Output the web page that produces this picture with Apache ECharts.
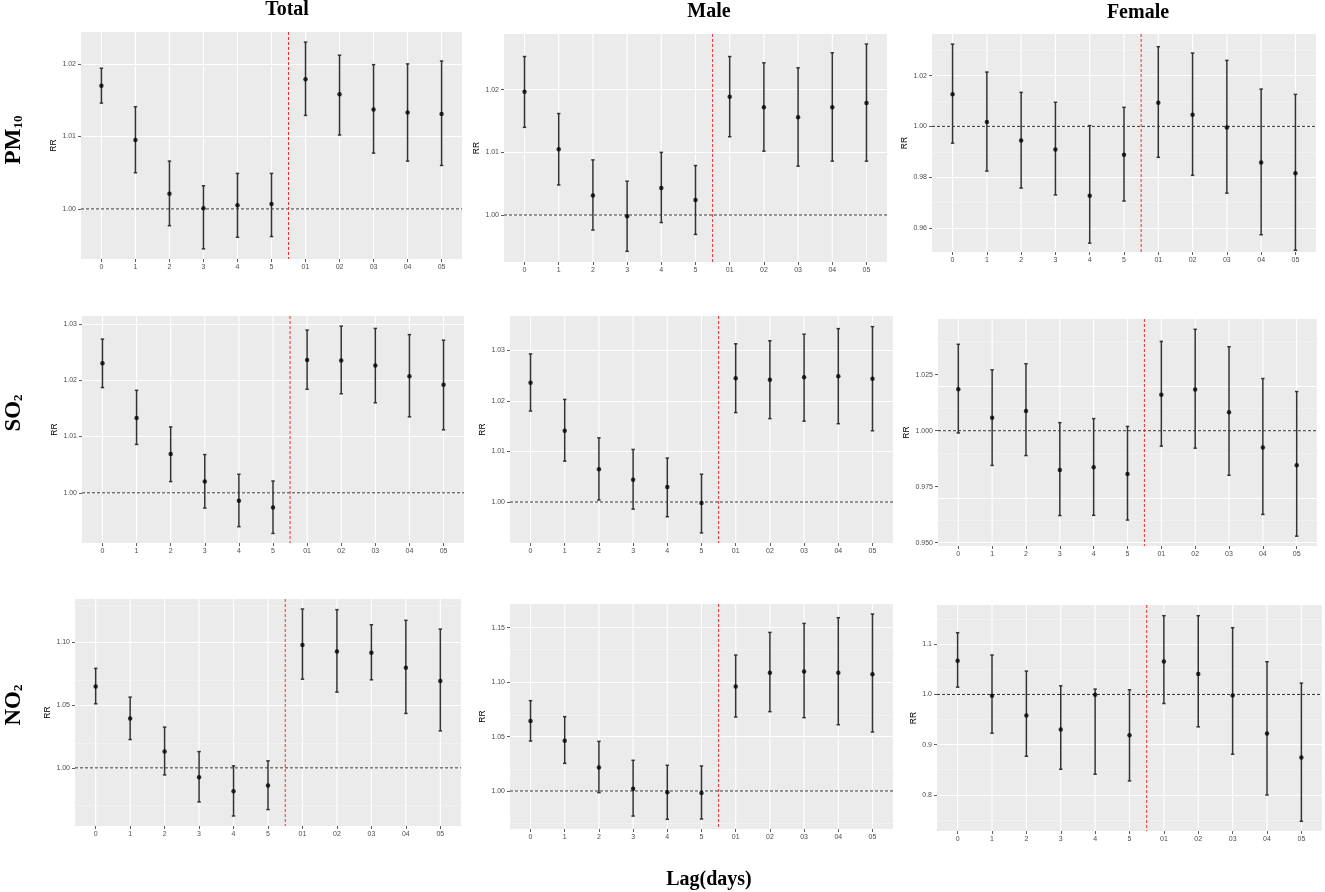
<!DOCTYPE html>
<html>
<head>
<meta charset="utf-8">
<script src="https://cdn.jsdelivr.net/npm/echarts@6/dist/echarts.min.js"></script>
<style>
  html, body { margin: 0; padding: 0; background: #fff; }
  #main { width: 1325px; height: 892px; }
</style>
</head>
<body>
<div id="main"></div>
<script>
// lag categories on the x axis
var lagLabels = ['0', '1', '2', '3', '4', '5', '01', '02', '03', '04', '05'];
var lagPos = [0, 1, 2, 3, 4, 5, 6, 7, 8, 9, 10];
var refRR = 1;       // horizontal dashed line
var splitLag = 5.5;  // red dashed line between single and moving-average lags

// PM10
var pm10Total_rr = [1.0170, 1.0095, 1.0021, 1.0001, 1.0005, 1.0007, 1.0179, 1.0158, 1.0137, 1.0133, 1.0131];
var pm10Total_lo = [1.0146, 1.0050, 0.9977, 0.9945, 0.9961, 0.9962, 1.0129, 1.0102, 1.0077, 1.0066, 1.0060];
var pm10Total_hi = [1.0194, 1.0141, 1.0066, 1.0032, 1.0049, 1.0049, 1.0230, 1.0212, 1.0199, 1.0200, 1.0204];

var pm10Male_rr = [1.0197, 1.0105, 1.0031, 0.9998, 1.0043, 1.0024, 1.0189, 1.0172, 1.0156, 1.0172, 1.0179];
var pm10Male_lo = [1.0140, 1.0048, 0.9976, 0.9942, 0.9988, 0.9969, 1.0125, 1.0102, 1.0078, 1.0086, 1.0086];
var pm10Male_hi = [1.0253, 1.0162, 1.0088, 1.0054, 1.0100, 1.0079, 1.0253, 1.0243, 1.0235, 1.0259, 1.0273];

var pm10Female_rr = [1.0127, 1.0017, 0.9944, 0.9909, 0.9727, 0.9888, 1.0093, 1.0046, 0.9996, 0.9858, 0.9815];
var pm10Female_lo = [0.9934, 0.9824, 0.9757, 0.9730, 0.9540, 0.9706, 0.9878, 0.9807, 0.9737, 0.9573, 0.9512];
var pm10Female_hi = [1.0324, 1.0214, 1.0134, 1.0095, 1.0003, 1.0075, 1.0314, 1.0289, 1.0260, 1.0147, 1.0126];

// SO2
var so2Total_rr = [1.0230, 1.0133, 1.0069, 1.0020, 0.9986, 0.9974, 1.0236, 1.0235, 1.0226, 1.0207, 1.0192];
var so2Total_lo = [1.0187, 1.0086, 1.0020, 0.9973, 0.9940, 0.9928, 1.0184, 1.0176, 1.0160, 1.0135, 1.0112];
var so2Total_hi = [1.0273, 1.0182, 1.0117, 1.0068, 1.0033, 1.0021, 1.0289, 1.0296, 1.0292, 1.0281, 1.0271];

var so2Male_rr = [1.0236, 1.0141, 1.0065, 1.0044, 1.0030, 0.9998, 1.0245, 1.0242, 1.0247, 1.0249, 1.0244];
var so2Male_lo = [1.0180, 1.0081, 1.0004, 0.9986, 0.9971, 0.9939, 1.0177, 1.0165, 1.0160, 1.0155, 1.0141];
var so2Male_hi = [1.0293, 1.0203, 1.0127, 1.0104, 1.0087, 1.0055, 1.0313, 1.0319, 1.0332, 1.0343, 1.0347];

var so2Female_rr = [1.0185, 1.0058, 1.0088, 0.9825, 0.9837, 0.9807, 1.0161, 1.0184, 1.0082, 0.9925, 0.9846];
var so2Female_lo = [0.9990, 0.9845, 0.9889, 0.9621, 0.9622, 0.9601, 0.9931, 0.9922, 0.9801, 0.9626, 0.9529];
var so2Female_hi = [1.0386, 1.0272, 1.0299, 1.0036, 1.0054, 1.0019, 1.0399, 1.0453, 1.0375, 1.0233, 1.0175];

// NO2
var no2Total_rr = [1.0649, 1.0394, 1.0130, 0.9926, 0.9814, 0.9859, 1.0979, 1.0928, 1.0918, 1.0798, 1.0692];
var no2Total_lo = [1.0511, 1.0226, 0.9944, 0.9729, 0.9617, 0.9668, 1.0707, 1.0604, 1.0702, 1.0434, 1.0295];
var no2Total_hi = [1.0793, 1.0564, 1.0325, 1.0130, 1.0016, 1.0056, 1.1266, 1.1261, 1.1141, 1.1176, 1.1106];

var no2Male_rr = [1.0643, 1.0462, 1.0217, 1.0021, 0.9988, 0.9982, 1.0961, 1.1087, 1.1099, 1.1087, 1.1072];
var no2Male_lo = [1.0459, 1.0254, 0.9985, 0.9770, 0.9740, 0.9743, 1.0680, 1.0729, 1.0674, 1.0609, 1.0542];
var no2Male_hi = [1.0830, 1.0683, 1.0456, 1.0282, 1.0236, 1.0230, 1.1249, 1.1457, 1.1540, 1.1592, 1.1626];

var no2Female_rr = [1.0672, 0.9973, 0.9581, 0.9301, 0.9993, 0.9188, 1.0659, 1.0406, 0.9980, 0.9222, 0.8743];
var no2Female_lo = [1.0146, 0.9228, 0.8769, 0.8510, 0.8410, 0.8277, 0.9820, 0.9355, 0.8809, 0.7997, 0.7472];
var no2Female_hi = [1.1231, 1.0785, 1.0466, 1.0173, 1.0107, 1.0093, 1.1570, 1.1570, 1.1331, 1.0652, 1.0226];

// y axis limits and breaks, panel order: PM10 T/M/F, SO2 T/M/F, NO2 T/M/F
var yMin = [0.9931, 0.9925, 0.9505, 0.9911, 0.9919, 0.9485, 0.9537, 0.9651, 0.7279];
var yMax = [1.0244, 1.0289, 1.0364, 1.0314, 1.0368, 1.0499, 1.1346, 1.1718, 1.1783];
var yMajor = [
  [1.00, 1.01, 1.02], [1.00, 1.01, 1.02], [0.96, 0.98, 1.00, 1.02],
  [1.00, 1.01, 1.02, 1.03], [1.00, 1.01, 1.02, 1.03], [0.950, 0.975, 1.000, 1.025],
  [1.00, 1.05, 1.10], [1.00, 1.05, 1.10, 1.15], [0.8, 0.9, 1.0, 1.1]
];
var yMinor = [
  [0.995, 1.005, 1.015], [0.995, 1.005, 1.015, 1.025], [0.95, 0.97, 0.99, 1.01, 1.03],
  [0.995, 1.005, 1.015, 1.025], [0.995, 1.005, 1.015, 1.025, 1.035], [0.9625, 0.9875, 1.0125, 1.0375],
  [0.975, 1.025, 1.075, 1.125], [0.975, 1.025, 1.075, 1.125], [0.75, 0.85, 0.95, 1.05, 1.15]
];
var yDigits = [2, 2, 2, 2, 2, 3, 2, 2, 1];

var colTitles = ['Total', 'Male', 'Female'];
var lagTitle = 'Lag(days)';

var panelData = [
  [pm10Total_rr, pm10Total_lo, pm10Total_hi],
  [pm10Male_rr, pm10Male_lo, pm10Male_hi],
  [pm10Female_rr, pm10Female_lo, pm10Female_hi],
  [so2Total_rr, so2Total_lo, so2Total_hi],
  [so2Male_rr, so2Male_lo, so2Male_hi],
  [so2Female_rr, so2Female_lo, so2Female_hi],
  [no2Total_rr, no2Total_lo, no2Total_hi],
  [no2Male_rr, no2Male_lo, no2Male_hi],
  [no2Female_rr, no2Female_lo, no2Female_hi]
];

// layout: left, top, width, height of each gray panel
var boxes = [
  [81, 32, 381, 227], [504, 34, 383, 228], [932, 34, 384, 218],
  [82, 316, 382, 227], [510, 316, 383, 227], [938, 319, 379, 227],
  [75, 599, 386, 227], [510, 604, 383, 225], [937, 605, 385, 226]
];
var rrX = [57, 482, 908, 57, 485, 910, 50, 485, 915];

var chart = echarts.init(document.getElementById('main'));

// vertical white grid lines, the RR = 1 line and the red split line
function renderGrid(params, api) {
  var kind = api.value(2);
  var cs = params.coordSys;
  if (kind === 2 || kind === 4) {
    var px = api.coord([api.value(0), refRR])[0];
    return {
      type: 'line',
      shape: { x1: px, y1: cs.y, x2: px, y2: cs.y + cs.height },
      style: kind === 2 ? { stroke: '#ffffff', lineWidth: 1.1 }
                        : { stroke: '#f03030', lineWidth: 1, lineDash: [3, 2] }
    };
  }
  var py = api.coord([0, api.value(1)])[1];
  return {
    type: 'line',
    shape: { x1: cs.x, y1: py, x2: cs.x + cs.width, y2: py },
    style: { stroke: '#333333', lineWidth: 1, lineDash: [3, 2] }
  };
}

function renderBar(params, api) {
  var x = api.value(0);
  var top = api.coord([x, api.value(2)]);
  var bot = api.coord([x, api.value(1)]);
  var half = api.size([0.1, 0])[0] / 2;
  var st = { stroke: '#333333', lineWidth: 1.5 };
  return {
    type: 'group',
    children: [
      { type: 'line', shape: { x1: top[0], y1: top[1], x2: bot[0], y2: bot[1] }, style: st },
      { type: 'line', shape: { x1: top[0] - half, y1: top[1], x2: top[0] + half, y2: top[1] }, style: st },
      { type: 'line', shape: { x1: bot[0] - half, y1: bot[1], x2: bot[0] + half, y2: bot[1] }, style: st }
    ]
  };
}

var grids = [], xAxes = [], yAxes = [], series = [];

panelData.forEach(function (p, i) {
  var b = boxes[i];
  grids.push({
    left: b[0], top: b[1], width: b[2], height: b[3],
    show: true, backgroundColor: '#EBEBEB', borderWidth: 0,
    outerBoundsMode: 'none', containLabel: false
  });
  xAxes.push({
    gridIndex: i, type: 'value', min: -0.6, max: 10.6,
    axisLine: { show: false, onZero: false },
    axisTick: { show: true, customValues: lagPos, length: 3, lineStyle: { color: '#333', width: 0.8 } },
    axisLabel: {
      customValues: lagPos, margin: 5, fontSize: 7, color: '#4D4D4D', fontFamily: 'Liberation Sans',
      formatter: function (v) { return lagLabels[Math.round(v)]; }
    },
    splitLine: { show: false }
  });
  var digits = yDigits[i];
  yAxes.push({
    gridIndex: i, type: 'value', min: yMin[i], max: yMax[i],
    name: 'RR', nameLocation: 'middle', nameGap: b[0] - rrX[i] - 4,
    nameTextStyle: { fontSize: 8.5, color: '#000', fontFamily: 'Liberation Sans' },
    axisLine: { show: false, onZero: false },
    axisTick: { show: true, customValues: yMajor[i], length: 3, lineStyle: { color: '#333', width: 0.8 } },
    axisLabel: {
      customValues: yMajor[i], margin: 5, fontSize: 7, color: '#4D4D4D', fontFamily: 'Liberation Sans',
      formatter: function (v) { return v.toFixed(digits); }
    },
    splitLine: { show: false }
  });

  // horizontal grid lines (minor thin, major white), kept under the marks
  var hLines = [];
  yMinor[i].forEach(function (v) {
    hLines.push({ yAxis: v, lineStyle: { color: '#f5f5f5', width: 0.6, type: 'solid' } });
  });
  yMajor[i].forEach(function (v) {
    hLines.push({ yAxis: v, lineStyle: { color: '#ffffff', width: 1.1, type: 'solid' } });
  });
  series.push({
    type: 'line', xAxisIndex: i, yAxisIndex: i, z: 1, silent: true, data: [],
    markLine: { z: 1, silent: true, symbol: 'none', label: { show: false }, animation: false, data: hLines }
  });

  var lines = [];
  lagPos.forEach(function (v) { lines.push([v, refRR, 2]); });
  lines.push([0, refRR, 3]);
  lines.push([splitLag, refRR, 4]);
  series.push({
    type: 'custom', xAxisIndex: i, yAxisIndex: i, silent: true, z: 2,
    renderItem: renderGrid, data: lines
  });

  series.push({
    type: 'custom', xAxisIndex: i, yAxisIndex: i, z: 3,
    renderItem: renderBar,
    data: p[0].map(function (v, k) { return [lagPos[k], p[1][k], p[2][k]]; })
  });
  series.push({
    type: 'scatter', xAxisIndex: i, yAxisIndex: i, z: 4,
    symbolSize: 4.5, itemStyle: { color: '#000' },
    data: p[0].map(function (v, k) { return [lagPos[k], v]; })
  });
});

var serifBold = { fontFamily: 'Liberation Serif', fontWeight: 'bold' };
function rowLabel(main, sub, y) {
  return {
    type: 'text', x: 14, y: y, rotation: Math.PI / 2,
    style: {
      text: '{m|' + main + '}{s|' + sub + '}',
      align: 'center', verticalAlign: 'middle',
      rich: {
        m: Object.assign({ fontSize: 23, lineHeight: 23, verticalAlign: 'top', fill: '#000' }, serifBold),
        s: Object.assign({ fontSize: 13, lineHeight: 13, padding: [13, 0, 0, 0], verticalAlign: 'bottom', fill: '#000' }, serifBold)
      }
    }
  };
}
function colLabel(text, x, y) {
  return {
    type: 'text', x: x, y: y,
    style: {
      text: text, align: 'center', verticalAlign: 'middle', fill: '#000',
      font: 'bold 20px "Liberation Serif"'
    }
  };
}

var option = {
  animation: false,
  backgroundColor: '#ffffff',
  grid: grids,
  xAxis: xAxes,
  yAxis: yAxes,
  series: series,
  graphic: [
    colLabel(colTitles[0], 287, 10),
    colLabel(colTitles[1], 709, 12),
    colLabel(colTitles[2], 1138, 13),
    rowLabel('PM', '10', 140),
    rowLabel('SO', '2', 413),
    rowLabel('NO', '2', 705),
    colLabel(lagTitle, 709, 880)
  ]
};

chart.setOption(option);
</script>
</body>
</html>
